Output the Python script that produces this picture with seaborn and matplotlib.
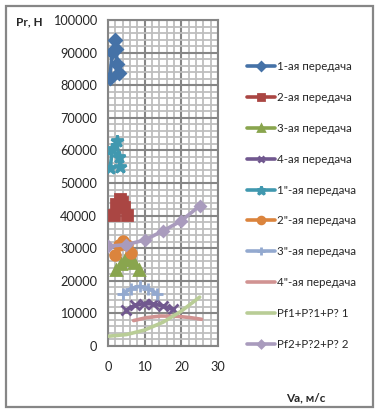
import numpy as np
import pandas as pd
import matplotlib
matplotlib.use("Agg")
import matplotlib.pyplot as plt
import seaborn as sns
from matplotlib.ticker import MultipleLocator
from matplotlib.patches import Rectangle

# --- данные ---
v_1 = [0.5, 1.2, 1.9, 2.2, 2.5, 3.0]
p_1 = [82300, 90200, 93800, 91000, 86500, 83600]
v_2 = [1.7, 2.1, 3.3, 3.7, 4.4, 5.1]
p_2 = [40200, 43500, 45200, 44200, 42500, 40200]
v_3 = [2.3, 3.5, 4.6, 5.8, 7.0, 8.4]
p_3 = [23400, 25300, 26300, 26500, 25400, 23400]
v_4 = [5.0, 7.3, 9.8, 12.4, 15.0, 17.6]
p_4 = [11000, 12500, 13000, 12900, 12300, 11200]
v_1b = [0.6, 1.2, 2.4, 2.9, 3.3]
p_1b = [54500, 60500, 62800, 58000, 55000]
v_2b = [1.8, 3.0, 4.2, 5.3, 6.3]
p_2b = [28000, 31000, 32200, 31000, 28500]
v_3b = [4.2, 6.2, 8.6, 11.0, 13.4]
p_3b = [16100, 17600, 18300, 17600, 16100]
v_4b = [7.0, 10.5, 14.4, 19.0, 22.5, 25.5]
p_4b = [7800, 8700, 9200, 9100, 8700, 8200]
v_f1 = [0, 5, 10, 15, 20, 25]
p_f1 = [3000, 3500, 4900, 7300, 10700, 15000]
v_f2 = [0, 5, 10, 15, 20, 25]
p_f2 = [30600, 31100, 32500, 35300, 38400, 43000]

labels = ["1-ая передача", "2-ая передача", "3-ая передача", "4-ая передача",
          "1\"-ая передача", "2\"-ая передача", "3\"-ая передача", "4\"-ая передача",
          "Pf1+P?1+P? 1", "Pf2+P?2+P? 2"]
colors = ["#4572A7", "#AA4643", "#89A54E", "#71588F", "#4198AF",
          "#DB843D", "#93A9CF", "#D19392", "#B9CD96", "#A99BBD"]
markers = ["D", "s", "^", "x", "*", "o", "+", None, None, "D"]
msizes = [6, 7, 7, 7, 9, 7, 8, 0, 0, 5]

series = [(v_1, p_1), (v_2, p_2), (v_3, p_3), (v_4, p_4), (v_1b, p_1b),
          (v_2b, p_2b), (v_3b, p_3b), (v_4b, p_4b), (v_f1, p_f1), (v_f2, p_f2)]

sns.set_style("white")
plt.rcParams["font.family"] = ["Lato", "DejaVu Sans"]

fig = plt.figure(figsize=(3.78, 4.12), dpi=100)
ax = fig.add_axes([108 / 378, 1 - 346 / 412, 110 / 378, 326 / 412])

for (v, p), lab, c, m, ms in zip(series, labels, colors, markers, msizes):
    df = pd.DataFrame({"v": v, "p": p})
    kw = dict(marker=m, markersize=ms, markeredgecolor=c, markerfacecolor=c, markeredgewidth=2) if m else {}
    sns.lineplot(data=df, x="v", y="p", sort=False, color=c, linewidth=2.6,
                 label=lab, ax=ax, zorder=3, **kw)

ax.set_xlim(0, 30)
ax.set_ylim(0, 100000)
ax.xaxis.set_major_locator(MultipleLocator(10))
ax.xaxis.set_minor_locator(MultipleLocator(2))
ax.yaxis.set_major_locator(MultipleLocator(10000))
ax.yaxis.set_minor_locator(MultipleLocator(2000))
ax.grid(which="major", color="#868686", linewidth=1.5, zorder=1)
ax.grid(which="minor", color="#BEBEBE", linewidth=1.3, zorder=0)
ax.set_axisbelow(True)
for s in ax.spines.values():
    s.set_color("#868686")
    s.set_linewidth(1.5)
ax.tick_params(axis="x", which="both", length=3, color="#868686", width=1.3,
               labelsize=9.2, pad=8)
ax.tick_params(axis="y", which="major", length=3, color="#868686", width=1.3,
               labelsize=9.2, pad=5)
ax.tick_params(axis="y", which="minor", length=0)
ax.set_xlabel("")
ax.set_ylabel("")

handles, labs = ax.get_legend_handles_labels()
ax.get_legend().remove()
fig.legend(handles, labs, loc="center left", bbox_to_anchor=(237 / 378, 1 - 205.5 / 412),
           frameon=False, fontsize=8.3, handlelength=2.4, handletextpad=0.2,
           labelspacing=1.72, markerscale=0.7)

fig.text(16 / 378, 1 - 22 / 412, "Pr, H", fontsize=8.5, fontweight="bold",
         ha="left", va="center")
fig.text(306 / 378, 1 - 398 / 412, "Va, м/с", fontsize=8.5, fontweight="bold",
         ha="center", va="center")

fig.patches.append(Rectangle((6 / 378, 5 / 412), 367 / 378, 401 / 412,
                             transform=fig.transFigure, fill=False,
                             edgecolor="#868686", linewidth=1.6))

fig.savefig("out.png", dpi=100)
